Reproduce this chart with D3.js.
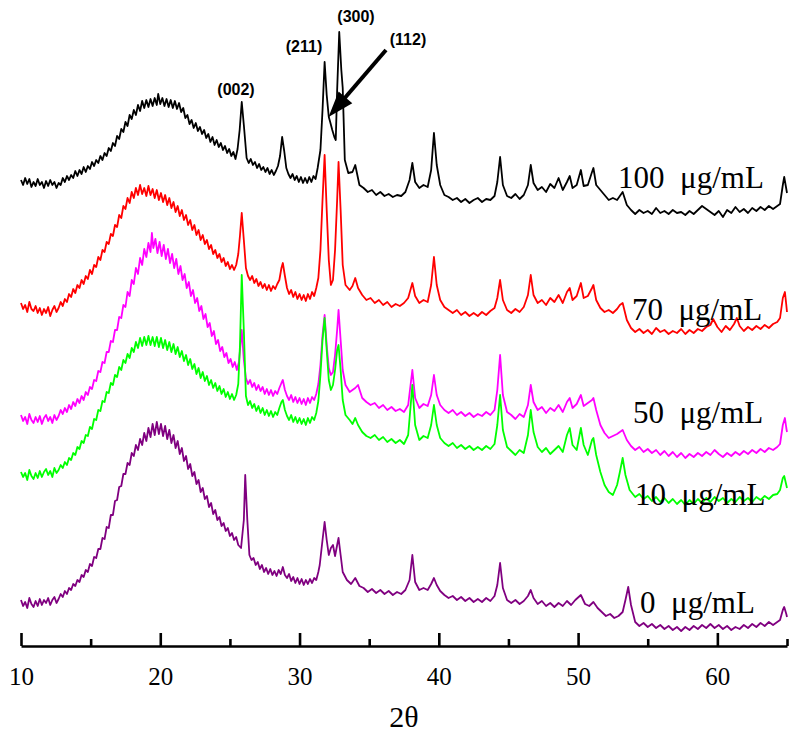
<!DOCTYPE html>
<html>
<head>
<meta charset="utf-8">
<script src="https://cdn.jsdelivr.net/npm/d3@7"></script>
<style>
  html, body { margin: 0; padding: 0; background: #fff; }
  svg { display: block; }
</style>
</head>
<body>
<svg id="chart" width="800" height="735"></svg>
<script>
// ---------------- DATA (2θ in degrees, intensity in stacked a.u.) ----------------
const xrd100 = [[10.00,466],[10.15,461],[10.30,468],[10.45,462],[10.60,467],[10.75,459],[10.90,464],[11.05,460],[11.20,467],[11.35,461],[11.50,464],[11.65,458],[11.80,465],[11.95,460],[12.10,466],[12.25,461],[12.40,464],[12.55,458],[12.70,463],[12.85,461],[13.00,468],[13.15,464],[13.30,470],[13.45,466],[13.60,471],[13.75,468],[13.90,475],[14.05,470],[14.20,476],[14.35,472],[14.50,479],[14.65,474],[14.80,480],[14.95,477],[15.10,484],[15.25,480],[15.40,486],[15.55,483],[15.70,490],[15.85,486],[16.00,493],[16.15,490],[16.30,498],[16.45,495],[16.60,503],[16.75,500],[16.90,510],[17.05,507],[17.20,517],[17.35,514],[17.50,524],[17.65,520],[17.80,531],[17.95,527],[18.10,536],[18.25,531],[18.40,541],[18.55,535],[18.70,545],[18.85,538],[19.00,546],[19.15,539],[19.30,547],[19.45,540],[19.60,548],[19.75,541],[19.85,552],[20.00,542],[20.15,548],[20.30,540],[20.45,547],[20.60,539],[20.75,546],[20.90,538],[21.05,545],[21.20,537],[21.35,543],[21.50,534],[21.65,538],[21.80,528],[21.95,531],[22.10,522],[22.25,526],[22.40,518],[22.55,523],[22.70,515],[22.85,519],[23.00,512],[23.15,516],[23.30,508],[23.45,512],[23.60,504],[23.75,509],[23.90,501],[24.05,506],[24.20,499],[24.35,503],[24.50,496],[24.65,500],[24.80,493],[24.95,497],[25.10,490],[25.25,494],[25.40,487],[25.55,497],[25.70,516],[25.85,544],[26.00,521],[26.20,488],[26.35,483],[26.50,487],[26.65,481],[26.80,484],[26.95,478],[27.10,482],[27.25,476],[27.40,479],[27.55,474],[27.70,478],[27.85,472],[28.00,476],[28.15,471],[28.30,475],[28.45,480],[28.60,490],[28.75,509],[28.90,495],[29.05,478],[29.20,472],[29.35,468],[29.50,472],[29.65,466],[29.80,470],[29.95,464],[30.10,469],[30.25,463],[30.40,468],[30.55,463],[30.70,469],[30.85,464],[31.00,470],[31.15,467],[31.30,478],[31.5,496],[31.65,536],[31.8,584],[31.95,551],[32.1,529],[32.2,524],[32.35,516],[32.5,509],[32.6,506],[32.7,556],[32.85,614],[33.0,576],[33.1,558],[33.25,486],[33.5,473],[33.8,474],[34.0,481],[34.3,461],[34.6,458],[34.9,454],[35.2,456],[35.5,451],[35.8,454],[36.1,450],[36.4,452],[36.7,449],[37.0,451],[37.3,450],[37.6,454],[37.9,466],[38.1,483],[38.3,464],[38.6,458],[38.9,461],[39.2,459],[39.45,476],[39.65,513],[39.85,481],[40.1,461],[40.4,451],[40.7,449],[41.0,446],[41.3,448],[41.6,444],[41.9,447],[42.2,443],[42.5,446],[42.8,448],[43.1,444],[43.4,447],[43.7,446],[44.0,450],[44.2,464],[44.4,489],[44.6,461],[44.9,450],[45.2,448],[45.5,452],[45.8,447],[46.1,451],[46.4,461],[46.6,481],[46.8,463],[47.1,456],[47.4,459],[47.7,454],[48.0,462],[48.3,458],[48.6,468],[48.9,456],[49.2,464],[49.4,470],[49.6,458],[49.9,461],[50.2,476],[50.4,460],[50.7,461],[51.0,474],[51.1,478],[51.3,461],[51.6,456],[51.9,451],[52.2,446],[52.5,448],[52.8,446],[53.0,450],[53.2,454],[53.5,441],[53.8,436],[54.1,432],[54.4,436],[54.7,433],[55.0,435],[55.3,432],[55.6,438],[55.9,433],[56.2,435],[56.5,432],[56.8,436],[57.1,433],[57.4,434],[57.7,431],[58.0,435],[58.3,432],[58.6,436],[58.9,440],[59.2,437],[59.5,434],[59.8,431],[60.1,435],[60.4,429],[60.7,436],[61.0,433],[61.3,439],[61.6,434],[61.9,437],[62.2,433],[62.5,438],[62.8,435],[63.1,439],[63.4,436],[63.7,440],[64.0,437],[64.3,440],[64.5,442],[64.7,461],[64.8,469],[64.9,461],[65.0,453]];

const xrd70 = [[10.00,343],[10.15,337],[10.30,341],[10.45,334],[10.60,344],[10.75,337],[10.90,335],[11.05,340],[11.20,333],[11.35,338],[11.50,331],[11.65,337],[11.80,333],[11.95,339],[12.10,330],[12.25,336],[12.40,340],[12.55,334],[12.70,338],[12.85,344],[13.00,340],[13.15,347],[13.30,344],[13.45,352],[13.60,349],[13.75,357],[13.90,353],[14.05,361],[14.20,358],[14.35,366],[14.50,362],[14.65,370],[14.80,367],[14.95,376],[15.10,372],[15.25,381],[15.40,379],[15.55,389],[15.70,386],[15.85,396],[16.00,394],[16.15,404],[16.30,402],[16.45,412],[16.60,410],[16.75,421],[16.90,419],[17.05,431],[17.20,428],[17.35,440],[17.50,437],[17.65,448],[17.80,443],[17.95,454],[18.10,448],[18.25,458],[18.40,451],[18.55,461],[18.70,452],[18.85,458],[19.00,450],[19.15,460],[19.30,451],[19.45,457],[19.60,448],[19.75,456],[19.90,446],[20.05,453],[20.20,444],[20.35,451],[20.50,441],[20.65,448],[20.80,438],[20.95,444],[21.10,434],[21.25,440],[21.40,430],[21.55,436],[21.70,426],[21.85,431],[22.00,421],[22.15,426],[22.30,416],[22.45,421],[22.60,411],[22.75,416],[22.90,406],[23.05,411],[23.20,402],[23.35,406],[23.50,397],[23.65,401],[23.80,392],[23.95,396],[24.10,388],[24.25,392],[24.40,384],[24.55,388],[24.70,380],[24.85,384],[25.00,377],[25.15,381],[25.30,376],[25.45,381],[25.60,392],[25.72,410],[25.85,433],[26.00,406],[26.15,378],[26.30,370],[26.45,366],[26.60,370],[26.75,363],[26.90,367],[27.05,360],[27.20,364],[27.35,358],[27.50,362],[27.65,356],[27.80,361],[27.95,355],[28.10,360],[28.25,357],[28.40,362],[28.55,366],[28.70,378],[28.80,383],[28.95,370],[29.10,358],[29.25,352],[29.40,356],[29.55,349],[29.70,354],[29.85,347],[30.00,352],[30.15,346],[30.30,351],[30.45,345],[30.60,352],[30.75,347],[30.90,354],[31.05,350],[31.20,358],[31.35,368],[31.5,396],[31.65,446],[31.8,491],[31.95,436],[32.1,386],[32.25,361],[32.4,366],[32.55,396],[32.7,446],[32.8,484],[32.95,436],[33.1,381],[33.3,361],[33.6,356],[33.8,360],[34.0,368],[34.2,358],[34.5,351],[34.8,346],[35.1,348],[35.4,343],[35.7,346],[36.0,341],[36.3,344],[36.6,339],[36.9,342],[37.2,340],[37.5,343],[37.8,348],[38.1,363],[38.3,350],[38.6,343],[38.9,346],[39.2,344],[39.45,361],[39.65,389],[39.85,361],[40.1,346],[40.4,339],[40.7,336],[41.0,333],[41.3,336],[41.6,331],[41.9,334],[42.2,330],[42.5,333],[42.8,330],[43.1,334],[43.4,331],[43.7,335],[44.0,338],[44.2,348],[44.4,366],[44.6,346],[44.9,336],[45.2,333],[45.5,337],[45.8,334],[46.1,339],[46.4,351],[46.6,371],[46.8,351],[47.1,343],[47.4,346],[47.7,341],[48.0,348],[48.3,344],[48.6,351],[48.9,343],[49.2,354],[49.4,358],[49.6,346],[49.9,350],[50.2,363],[50.4,348],[50.7,350],[51.0,358],[51.1,361],[51.3,346],[51.6,338],[51.9,334],[52.2,336],[52.5,333],[52.8,337],[53.0,341],[53.2,343],[53.5,326],[53.8,318],[54.1,314],[54.4,317],[54.7,313],[55.0,316],[55.3,312],[55.6,318],[55.9,314],[56.2,316],[56.5,312],[56.8,315],[57.1,313],[57.4,317],[57.7,312],[58.0,316],[58.3,313],[58.6,317],[58.9,315],[59.2,319],[59.5,321],[59.7,327],[60.0,319],[60.3,314],[60.6,320],[60.9,316],[61.2,322],[61.4,328],[61.6,320],[61.9,315],[62.2,319],[62.5,316],[62.8,320],[63.1,317],[63.4,321],[63.7,318],[64.0,322],[64.3,324],[64.5,328],[64.7,348],[64.85,354],[64.95,341],[65.0,334]];

const xrd50 = [[10.00,231],[10.15,225],[10.30,229],[10.45,222],[10.60,232],[10.75,226],[10.90,223],[11.05,229],[11.20,224],[11.35,230],[11.50,222],[11.65,228],[11.80,231],[11.95,225],[12.10,229],[12.25,223],[12.40,231],[12.55,226],[12.70,230],[12.85,236],[13.00,232],[13.15,238],[13.30,234],[13.45,241],[13.60,237],[13.75,244],[13.90,240],[14.05,247],[14.20,243],[14.35,250],[14.50,246],[14.65,254],[14.80,251],[14.95,259],[15.10,257],[15.25,266],[15.40,265],[15.55,275],[15.70,274],[15.85,284],[16.00,283],[16.15,294],[16.30,294],[16.45,305],[16.60,304],[16.75,316],[16.90,316],[17.05,329],[17.20,328],[17.35,341],[17.50,339],[17.65,354],[17.80,350],[17.95,366],[18.10,362],[18.25,378],[18.40,372],[18.55,388],[18.70,381],[18.85,397],[19.00,389],[19.15,403],[19.30,394],[19.40,413],[19.50,398],[19.65,407],[19.80,393],[19.95,404],[20.10,390],[20.25,401],[20.40,387],[20.55,397],[20.70,383],[20.85,392],[21.00,378],[21.15,387],[21.30,372],[21.45,380],[21.60,366],[21.75,372],[21.90,358],[22.05,364],[22.20,350],[22.35,356],[22.50,343],[22.65,348],[22.80,335],[22.95,340],[23.10,327],[23.25,332],[23.40,319],[23.55,323],[23.70,310],[23.85,315],[24.00,302],[24.15,306],[24.30,295],[24.45,299],[24.60,289],[24.75,293],[24.90,283],[25.05,287],[25.20,279],[25.35,284],[25.50,276],[25.65,284],[25.75,300],[25.85,316],[26.00,286],[26.15,268],[26.30,262],[26.45,266],[26.60,259],[26.75,263],[26.90,256],[27.05,261],[27.20,255],[27.35,259],[27.50,252],[27.65,257],[27.80,251],[27.95,256],[28.10,250],[28.25,255],[28.40,252],[28.55,258],[28.70,263],[28.80,266],[28.95,256],[29.10,250],[29.25,246],[29.40,251],[29.55,244],[29.70,249],[29.85,243],[30.00,248],[30.15,242],[30.30,247],[30.45,241],[30.60,248],[30.75,243],[30.90,249],[31.05,246],[31.20,252],[31.35,262],[31.5,281],[31.65,311],[31.8,331],[31.95,301],[32.1,278],[32.25,271],[32.4,274],[32.55,291],[32.7,316],[32.8,336],[32.95,306],[33.1,276],[33.3,261],[33.6,254],[33.8,256],[34.0,258],[34.2,261],[34.5,248],[34.8,244],[35.1,241],[35.4,243],[35.7,238],[36.0,241],[36.3,236],[36.6,239],[36.9,235],[37.2,237],[37.5,234],[37.8,241],[38.1,276],[38.3,248],[38.6,238],[38.9,242],[39.2,240],[39.45,251],[39.65,271],[39.85,251],[40.1,241],[40.4,236],[40.7,233],[41.0,236],[41.3,231],[41.6,234],[41.9,230],[42.2,233],[42.5,229],[42.8,232],[43.1,230],[43.4,234],[43.7,231],[44.0,236],[44.2,256],[44.4,291],[44.6,251],[44.9,234],[45.2,231],[45.5,227],[45.8,232],[46.1,229],[46.4,241],[46.6,261],[46.8,244],[47.1,236],[47.4,239],[47.7,233],[48.0,238],[48.3,235],[48.6,241],[48.9,234],[49.2,244],[49.4,248],[49.6,238],[49.9,242],[50.2,251],[50.4,240],[50.7,243],[51.0,246],[51.1,248],[51.3,236],[51.6,221],[51.9,213],[52.2,208],[52.5,210],[52.8,212],[53.0,214],[53.2,216],[53.5,206],[53.8,200],[54.1,196],[54.4,199],[54.7,194],[55.0,197],[55.3,193],[55.6,196],[55.9,191],[56.2,195],[56.5,190],[56.8,194],[57.1,189],[57.4,193],[57.7,188],[58.0,192],[58.3,189],[58.6,193],[58.9,190],[59.2,194],[59.5,191],[59.8,196],[60.1,192],[60.4,189],[60.7,193],[61.0,190],[61.3,194],[61.6,191],[61.9,195],[62.2,192],[62.5,196],[62.8,193],[63.1,197],[63.4,194],[63.7,198],[64.0,196],[64.3,199],[64.5,202],[64.7,221],[64.85,228],[64.95,218],[65.0,214]];

const xrd10 = [[10.00,174],[10.15,169],[10.30,173],[10.45,166],[10.60,176],[10.75,170],[10.90,167],[11.05,173],[11.20,168],[11.35,175],[11.50,169],[11.65,174],[11.80,177],[11.95,171],[12.10,175],[12.25,169],[12.40,178],[12.55,173],[12.70,176],[12.85,181],[13.00,178],[13.15,184],[13.30,181],[13.45,188],[13.60,186],[13.75,193],[13.90,191],[14.05,199],[14.20,197],[14.35,205],[14.50,203],[14.65,211],[14.80,210],[14.95,219],[15.10,217],[15.25,227],[15.40,226],[15.55,236],[15.70,235],[15.85,245],[16.00,244],[16.15,254],[16.30,253],[16.45,263],[16.60,261],[16.75,271],[16.90,269],[17.05,279],[17.20,276],[17.35,286],[17.50,283],[17.65,292],[17.80,288],[17.95,298],[18.10,294],[18.25,304],[18.40,298],[18.55,308],[18.70,300],[18.85,309],[19.00,301],[19.15,310],[19.30,301],[19.45,309],[19.60,300],[19.75,309],[19.90,299],[20.05,308],[20.20,298],[20.35,306],[20.50,296],[20.65,304],[20.80,294],[20.95,302],[21.10,292],[21.25,299],[21.40,289],[21.55,295],[21.70,285],[21.85,291],[22.00,281],[22.15,287],[22.30,277],[22.45,282],[22.60,272],[22.75,278],[22.90,268],[23.05,274],[23.20,265],[23.35,270],[23.50,261],[23.65,266],[23.80,258],[23.95,263],[24.10,255],[24.25,260],[24.40,252],[24.55,257],[24.70,249],[24.85,254],[25.00,247],[25.15,252],[25.30,246],[25.45,251],[25.60,262],[25.72,300],[25.85,371],[26.00,316],[26.15,250],[26.30,241],[26.45,245],[26.60,238],[26.75,242],[26.90,235],[27.05,240],[27.20,233],[27.35,238],[27.50,231],[27.65,236],[27.80,230],[27.95,235],[28.10,229],[28.25,234],[28.40,231],[28.55,238],[28.70,244],[28.80,246],[28.95,236],[29.10,230],[29.25,226],[29.40,231],[29.55,224],[29.70,229],[29.85,223],[30.00,228],[30.15,222],[30.30,227],[30.45,221],[30.60,228],[30.75,223],[30.90,229],[31.05,226],[31.20,233],[31.35,245],[31.5,271],[31.65,306],[31.8,328],[31.95,296],[32.1,266],[32.25,256],[32.4,261],[32.55,276],[32.7,296],[32.8,301],[32.95,276],[33.1,246],[33.3,231],[33.6,226],[33.8,222],[34.0,228],[34.2,221],[34.5,214],[34.8,210],[35.1,208],[35.4,211],[35.7,206],[36.0,209],[36.3,204],[36.6,207],[36.9,203],[37.2,206],[37.5,202],[37.8,211],[38.1,261],[38.3,221],[38.6,206],[38.9,210],[39.2,208],[39.45,221],[39.65,241],[39.85,221],[40.1,208],[40.4,203],[40.7,200],[41.0,203],[41.3,198],[41.6,201],[41.9,197],[42.2,200],[42.5,196],[42.8,199],[43.1,196],[43.4,200],[43.7,197],[44.0,202],[44.2,221],[44.4,251],[44.6,216],[44.9,199],[45.2,195],[45.5,191],[45.8,196],[46.1,193],[46.4,211],[46.6,236],[46.8,214],[47.1,199],[47.4,194],[47.7,198],[48.0,192],[48.3,196],[48.6,200],[48.9,194],[49.2,211],[49.4,218],[49.6,201],[49.9,196],[50.2,218],[50.4,201],[50.7,191],[51.0,206],[51.1,208],[51.3,191],[51.6,174],[51.9,161],[52.2,154],[52.5,151],[52.8,161],[53.0,174],[53.2,188],[53.4,171],[53.7,156],[54.1,149],[54.4,152],[54.7,147],[55.0,150],[55.3,145],[55.6,149],[55.9,144],[56.2,148],[56.5,143],[56.8,147],[57.1,142],[57.4,146],[57.7,141],[58.0,146],[58.3,142],[58.6,147],[58.9,143],[59.2,148],[59.5,144],[59.8,149],[60.1,145],[60.4,148],[60.7,143],[61.0,147],[61.3,144],[61.6,149],[61.9,145],[62.2,148],[62.5,144],[62.8,149],[63.1,146],[63.4,150],[63.7,147],[64.0,151],[64.3,152],[64.5,156],[64.7,168],[64.8,170],[65.0,158]];

const xrd0 = [[10.00,46],[10.15,40],[10.30,44],[10.45,38],[10.60,48],[10.75,42],[10.90,39],[11.05,45],[11.20,40],[11.35,47],[11.50,41],[11.65,46],[11.80,43],[11.95,48],[12.10,41],[12.25,46],[12.40,49],[12.55,43],[12.70,47],[12.85,52],[13.00,49],[13.15,55],[13.30,52],[13.45,58],[13.60,56],[13.75,62],[13.90,60],[14.05,66],[14.20,64],[14.35,71],[14.50,69],[14.65,76],[14.80,74],[14.95,82],[15.10,80],[15.25,89],[15.40,88],[15.55,97],[15.70,97],[15.85,108],[16.00,107],[16.15,119],[16.30,118],[16.45,131],[16.60,131],[16.75,145],[16.90,146],[17.05,159],[17.20,160],[17.35,172],[17.50,172],[17.65,183],[17.80,181],[17.95,193],[18.10,190],[18.25,201],[18.40,196],[18.55,207],[18.70,201],[18.85,213],[19.00,205],[19.15,218],[19.30,209],[19.45,222],[19.60,211],[19.75,224],[19.90,212],[20.05,222],[20.20,210],[20.35,220],[20.50,207],[20.65,216],[20.80,203],[20.95,211],[21.10,198],[21.25,205],[21.40,192],[21.55,198],[21.70,185],[21.85,190],[22.00,177],[22.15,182],[22.30,170],[22.45,174],[22.60,162],[22.75,166],[22.90,154],[23.05,158],[23.20,147],[23.35,150],[23.50,139],[23.65,143],[23.80,132],[23.95,136],[24.10,126],[24.25,129],[24.40,120],[24.55,123],[24.70,115],[24.85,118],[25.00,110],[25.15,113],[25.30,106],[25.45,109],[25.60,101],[25.80,98],[26.00,126],[26.10,171],[26.25,126],[26.40,91],[26.55,86],[26.70,88],[26.85,81],[27.00,84],[27.15,77],[27.30,81],[27.45,74],[27.60,78],[27.75,72],[27.90,77],[28.05,71],[28.20,75],[28.35,70],[28.50,76],[28.65,72],[28.80,79],[28.95,71],[29.10,68],[29.25,72],[29.40,65],[29.55,69],[29.70,63],[29.85,68],[30.00,62],[30.15,67],[30.30,61],[30.45,66],[30.60,62],[30.75,67],[30.90,63],[31.05,68],[31.20,66],[31.35,74],[31.45,81],[31.65,106],[31.8,124],[31.95,106],[32.1,91],[32.25,98],[32.4,101],[32.55,90],[32.7,101],[32.8,108],[32.95,91],[33.1,74],[33.4,66],[33.7,62],[34.0,68],[34.3,60],[34.6,58],[34.9,54],[35.2,57],[35.5,53],[35.8,56],[36.1,52],[36.4,55],[36.7,51],[37.0,54],[37.3,52],[37.6,56],[37.9,66],[38.1,91],[38.3,64],[38.6,56],[38.9,58],[39.2,56],[39.45,62],[39.65,68],[39.85,61],[40.1,55],[40.4,51],[40.7,48],[41.0,50],[41.3,46],[41.6,49],[41.9,45],[42.2,48],[42.5,44],[42.8,47],[43.1,44],[43.4,48],[43.7,45],[44.0,50],[44.2,61],[44.4,83],[44.6,58],[44.9,46],[45.2,43],[45.5,46],[45.8,42],[46.1,45],[46.4,50],[46.6,56],[46.8,48],[47.1,42],[47.4,45],[47.7,40],[48.0,43],[48.3,39],[48.6,43],[48.9,40],[49.2,45],[49.5,41],[49.8,46],[50.2,51],[50.5,42],[50.8,40],[51.1,44],[51.4,38],[51.7,34],[52.0,30],[52.3,32],[52.6,28],[52.9,30],[53.2,34],[53.4,46],[53.6,59],[53.8,41],[54.1,24],[54.4,20],[54.7,23],[55.0,19],[55.3,22],[55.6,18],[55.9,21],[56.2,17],[56.5,20],[56.8,16],[57.1,19],[57.4,15],[57.7,19],[58.0,16],[58.3,20],[58.6,17],[58.9,21],[59.2,18],[59.5,22],[59.8,18],[60.1,21],[60.4,17],[60.7,20],[61.0,16],[61.3,19],[61.6,17],[61.9,21],[62.2,18],[62.5,22],[62.8,19],[63.1,23],[63.4,20],[63.7,24],[64.0,21],[64.3,24],[64.5,26],[64.7,36],[64.8,39],[64.95,32],[65.0,29]];

const seriesNames = ["100  μg/mL", "70  μg/mL", "50  μg/mL", "10  μg/mL", "0  μg/mL"];
const seriesData = [xrd100, xrd70, xrd50, xrd10, xrd0];
const seriesColors = ["#000000", "#ff0000", "#ff00ff", "#00ff00", "#800080"];

const majorTicks = [10, 20, 30, 40, 50, 60];
const minorTicks = [15, 25, 35, 45, 55, 65];

const peakLabels = ["(002)", "(211)", "(300)", "(112)"];
const peakPositions = [25.85, 31.8, 32.85, 32.08];   // 2θ of each indexed reflection
const xLabel = "2θ";

// ---------------- LAYOUT ----------------
const svg = d3.select("#chart");
svg.append("rect").attr("width", 800).attr("height", 735).attr("fill", "#fff");

const x = d3.scaleLinear().domain([10, 65]).range([21, 787]);
const y = d3.scaleLinear().domain([0, 640]).range([646, 6]);

const line = d3.line().x(d => x(d[0])).y(d => y(d[1]));

// traces
seriesData.forEach((data, i) => {
  svg.append("path")
    .datum(data)
    .attr("fill", "none")
    .attr("stroke", seriesColors[i])
    .attr("stroke-width", 1.8)
    .attr("stroke-linejoin", "round")
    .attr("d", line);
});

// series labels (placed in data coordinates)
const labelAnchors = [[52.87, 458], [53.87, 326], [53.94, 223], [54.09, 141], [54.45, 33]];
seriesNames.forEach((name, i) => {
  svg.append("text")
    .attr("x", x(labelAnchors[i][0]))
    .attr("y", y(labelAnchors[i][1]))
    .attr("font-family", "'Liberation Serif', 'DejaVu Serif', serif")
    .attr("font-size", 31)
    .attr("fill", "#000")
    .style("white-space", "pre")
    .text(name);
});

// axis
const axisMajor = d3.axisBottom(x)
  .tickValues(majorTicks)
  .tickSizeInner(-13)
  .tickSizeOuter(0)
  .tickPadding(21)
  .tickFormat(d3.format("d"));
const gAxis = svg.append("g").attr("transform", "translate(0,646)").call(axisMajor);
gAxis.select(".domain").attr("stroke", "#000").attr("stroke-width", 2.6);
gAxis.selectAll(".tick line").attr("stroke", "#000").attr("stroke-width", 2.6);
gAxis.selectAll(".tick text")
  .attr("font-family", "'Liberation Serif', 'DejaVu Serif', serif")
  .attr("font-size", 25)
  .attr("fill", "#000");

const axisMinor = d3.axisBottom(x)
  .tickValues(minorTicks)
  .tickSizeInner(-7)
  .tickSizeOuter(0)
  .tickFormat("");
const gMinor = svg.append("g").attr("transform", "translate(0,646)").call(axisMinor);
gMinor.select(".domain").remove();
gMinor.selectAll(".tick line").attr("stroke", "#000").attr("stroke-width", 2.6);

svg.append("text")
  .attr("x", 404)
  .attr("y", 727)
  .attr("text-anchor", "middle")
  .attr("font-family", "'Liberation Serif', 'DejaVu Serif', serif")
  .attr("font-size", 30)
  .attr("fill", "#000")
  .text(xLabel);

// peak annotations
const annFont = "'Liberation Sans', Arial, sans-serif";
const annBaselines = [95, 52, 22, 45];
const annX = [236, 304, 356, 408];
peakLabels.forEach((lab, i) => {
  svg.append("text")
    .attr("x", annX[i])
    .attr("y", annBaselines[i])
    .attr("text-anchor", "middle")
    .attr("font-family", annFont)
    .attr("font-weight", "bold")
    .attr("font-size", 16)
    .attr("fill", "#000")
    .text(lab);
});

// arrow pointing at the (112) shoulder
const tip = [x(peakPositions[3]), y(529)];
const tail = [386, 50];
const dx = tip[0] - tail[0], dy = tip[1] - tail[1];
const len = Math.hypot(dx, dy);
const ux = dx / len, uy = dy / len;
const headLen = 26, headHalf = 9;
const base = [tip[0] - ux * headLen, tip[1] - uy * headLen];
svg.append("line")
  .attr("x1", tail[0]).attr("y1", tail[1])
  .attr("x2", base[0] + ux * 4).attr("y2", base[1] + uy * 4)
  .attr("stroke", "#000").attr("stroke-width", 4);
svg.append("path")
  .attr("d", `M${tip[0]},${tip[1]} L${base[0] - uy * headHalf},${base[1] + ux * headHalf} L${base[0] + uy * headHalf},${base[1] - ux * headHalf} Z`)
  .attr("fill", "#000");
</script>
</body>
</html>
